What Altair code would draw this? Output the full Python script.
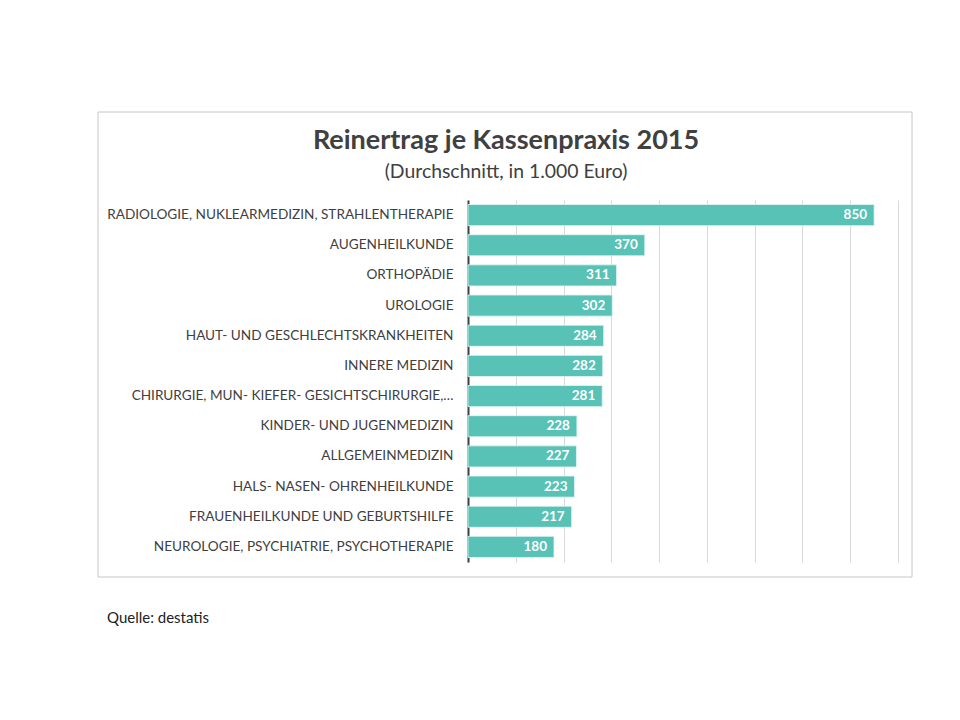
import altair as alt
import pandas as pd

categories = [
    "RADIOLOGIE, NUKLEARMEDIZIN, STRAHLENTHERAPIE",
    "AUGENHEILKUNDE",
    "ORTHOPÄDIE",
    "UROLOGIE",
    "HAUT- UND GESCHLECHTSKRANKHEITEN",
    "INNERE MEDIZIN",
    "CHIRURGIE, MUN- KIEFER- GESICHTSCHIRURGIE,…",
    "KINDER- UND JUGENMEDIZIN",
    "ALLGEMEINMEDIZIN",
    "HALS- NASEN- OHRENHEILKUNDE",
    "FRAUENHEILKUNDE UND GEBURTSHILFE",
    "NEUROLOGIE, PSYCHIATRIE, PSYCHOTHERAPIE",
]
values = [850, 370, 311, 302, 284, 282, 281, 228, 227, 223, 217, 180]
title_text = "Reinertrag je Kassenpraxis 2015"
subtitle_text = "(Durchschnitt, in 1.000 Euro)"
source_text = "Quelle: destatis"
grid_values = [0, 100, 200, 300, 400, 500, 600, 700, 800, 900]

FONT = "Lato"
df = pd.DataFrame({"cat": categories, "val": values})

W, H = 430, 362

x_enc = alt.X(
    "val:Q",
    scale=alt.Scale(domain=[0, 900], nice=False),
    axis=alt.Axis(values=grid_values, labels=False, ticks=False, domain=False,
                  title=None, grid=True, gridColor="#d9d9d9", gridWidth=1),
)
y_enc = alt.Y(
    "cat:N",
    sort=categories,
    scale=alt.Scale(paddingInner=0.3, paddingOuter=0.15),
    axis=alt.Axis(title=None, ticks=False, domainColor="#404040", domainWidth=2,
                  labelPadding=15, labelFontSize=13.6, labelColor="#404040",
                  labelFont=FONT, labelLimit=450),
)

base = alt.Chart(df)

bars = base.mark_bar(color="#58c2b7", stroke="#e6f6f4", strokeWidth=0.8).encode(
    x=x_enc, y=y_enc
)
labels = base.mark_text(align="right", baseline="middle", dx=-7, color="white",
                        font=FONT, fontWeight="bold", fontSize=13.5).encode(
    x="val:Q", y=alt.Y("cat:N", sort=categories), text="val:Q"
)

frame = alt.Chart(pd.DataFrame({"f": [0]})).mark_rect(
    fillOpacity=0, stroke="#c6c6c6", strokeWidth=1
).encode(
    x=alt.value(-370), x2=alt.value(444), y=alt.value(-88), y2=alt.value(377)
)

title = alt.Chart(pd.DataFrame({"t": [title_text]})).mark_text(
    font=FONT, fontSize=27, fontWeight="bold", color="#404040",
    align="center", baseline="middle"
).encode(text="t:N", x=alt.value(38), y=alt.value(-59))

subtitle = alt.Chart(pd.DataFrame({"t": [subtitle_text]})).mark_text(
    font=FONT, fontSize=19.4, color="#404040", align="center", baseline="middle"
).encode(text="t:N", x=alt.value(38), y=alt.value(-28))

source = alt.Chart(pd.DataFrame({"t": [source_text]})).mark_text(
    font=FONT, fontSize=15, color="#222222", align="left", baseline="middle"
).encode(text="t:N", x=alt.value(-361), y=alt.value(418))

chart = alt.layer(frame, bars, labels, title, subtitle, source).properties(
    width=W, height=H,
    padding={"left": 89, "top": 103, "right": 5, "bottom": 5},
).configure_view(stroke=None)

chart.save("out.html", embed_options={"renderer": "svg", "actions": False})
